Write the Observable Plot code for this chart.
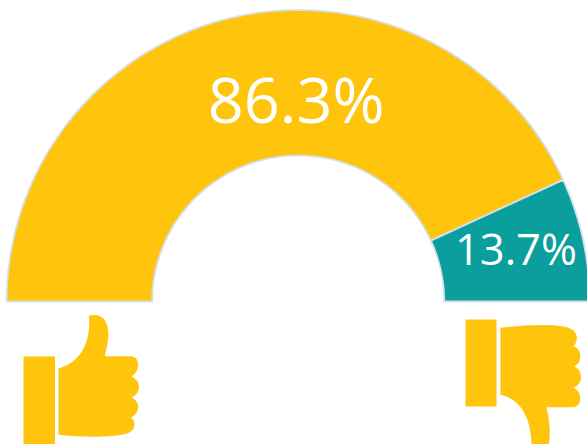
<!DOCTYPE html>
<html><head><meta charset="utf-8">
<style>html,body{margin:0;padding:0;background:#fff;overflow:hidden}svg{display:block}</style>
<script src="https://cdn.jsdelivr.net/npm/d3@7"></script>
<script src="https://cdn.jsdelivr.net/npm/@observablehq/plot@0.6"></script>
</head><body><div id="chart"></div>
<script>
const names = ["Thumbs up", "Thumbs down"];
const shares = [86.3, 13.7];
const labels = ["86.3%", "13.7%"];
const colors = ["#FFC40C", "#0A9E9D"];

const INNER = 146 / 291.5;
let acc = 0;
const ring = [];
names.forEach((name, i) => {
  const a0 = Math.PI * (1 - acc / 100);
  acc += shares[i];
  const a1 = Math.PI * (1 - acc / 100);
  const steps = Math.max(8, Math.round(shares[i] * 3));
  const pts = [];
  for (let s = 0; s <= steps; s++) { const a = a0 + (a1 - a0) * s / steps; pts.push([Math.cos(a), Math.sin(a)]); }
  for (let s = steps; s >= 0; s--) { const a = a0 + (a1 - a0) * s / steps; pts.push([INNER * Math.cos(a), INNER * Math.sin(a)]); }
  pts.push(pts[0]);
  pts.forEach(p => ring.push({name, x: p[0], y: p[1]}));
});

function icon(ax, ay, draw) {
  return {draw(ctx, size) {
    const k = Math.sqrt(size / Math.PI) / 50;
    const X = v => (v - ax) * k, Y = v => (v - ay) * k;
    draw({
      M: (x, y) => ctx.moveTo(X(x), Y(y)),
      L: (x, y) => ctx.lineTo(X(x), Y(y)),
      Q: (a, b, x, y) => ctx.quadraticCurveTo(X(a), Y(b), X(x), Y(y)),
      C: (a, b, c, d, x, y) => ctx.bezierCurveTo(X(a), Y(b), X(c), Y(d), X(x), Y(y)),
      Z: () => ctx.closePath()
    });
  }};
}
const upSymbol = icon(80, 400, p => {
  p.M(23, 356); p.L(54.5, 356); p.L(54.5, 444); p.L(23, 444); p.Z();
  p.M(58, 368);
  p.C(80, 362, 91, 342, 88.3, 315);
  p.C(98, 313, 108, 316, 108, 335);
  p.Q(107, 345, 104.3, 355.7);
  p.L(130, 355.7);
  p.C(141, 356, 139, 372, 131, 376);
  p.C(141, 380, 141, 393, 131, 397);
  p.C(140, 401, 140, 412, 130.7, 417);
  p.C(136, 422, 135, 430, 126.7, 433);
  p.C(112, 437, 80, 437, 58, 434.3);
  p.Z();
});
const downSymbol = icon(520, 380, p => {
  p.M(465, 319); p.L(496, 319); p.L(496, 406); p.L(465, 406); p.Z();
  p.M(500, 327.3);
  p.C(525, 324, 565, 322, 573, 330);
  p.C(578, 335, 577, 341, 573, 346);
  p.C(582, 348, 582, 363, 573.5, 366);
  p.C(583, 369, 583, 385, 572.5, 387);
  p.C(582, 390, 582, 406, 573, 406.7);
  p.L(546, 406.7);
  p.C(550, 425, 550, 435, 548, 446);
  p.L(531, 446);
  p.C(531, 420, 522, 399, 500, 394.3);
  p.Z();
});

const plot = Plot.plot({
  width: 587, height: 444,
  margin: 0,
  x: {domain: [-1, 1], range: [6.2, 589.2], axis: null},
  y: {domain: [0, 1], range: [301, 9.5], axis: null},
  color: {domain: names, range: colors},
  marks: [
    Plot.line(ring, {x: "x", y: "y", fill: "name", stroke: "#D6E0EA", strokeWidth: 1.8}),
    Plot.text([labels[0]], {x: () => -0.007, y: () => 0.681, text: d => d, fill: "#fff", fontSize: 63, fontFamily: "Open Sans"}),
    Plot.text([labels[1]], {x: () => 0.747, y: () => 0.172, text: d => d, fill: "#fff", fontSize: 43.5, fontFamily: "Open Sans"}),
    Plot.dot([0], {x: () => (80 - 297.7) / 291.5, y: () => (301 - 400) / 291.5, r: 50, symbol: upSymbol, fill: colors[0], stroke: "none"}),
    Plot.dot([0], {x: () => (520 - 297.7) / 291.5, y: () => (301 - 380) / 291.5, r: 50, symbol: downSymbol, fill: colors[0], stroke: "none"})
  ]
});
document.getElementById("chart").append(plot);
</script></body></html>
